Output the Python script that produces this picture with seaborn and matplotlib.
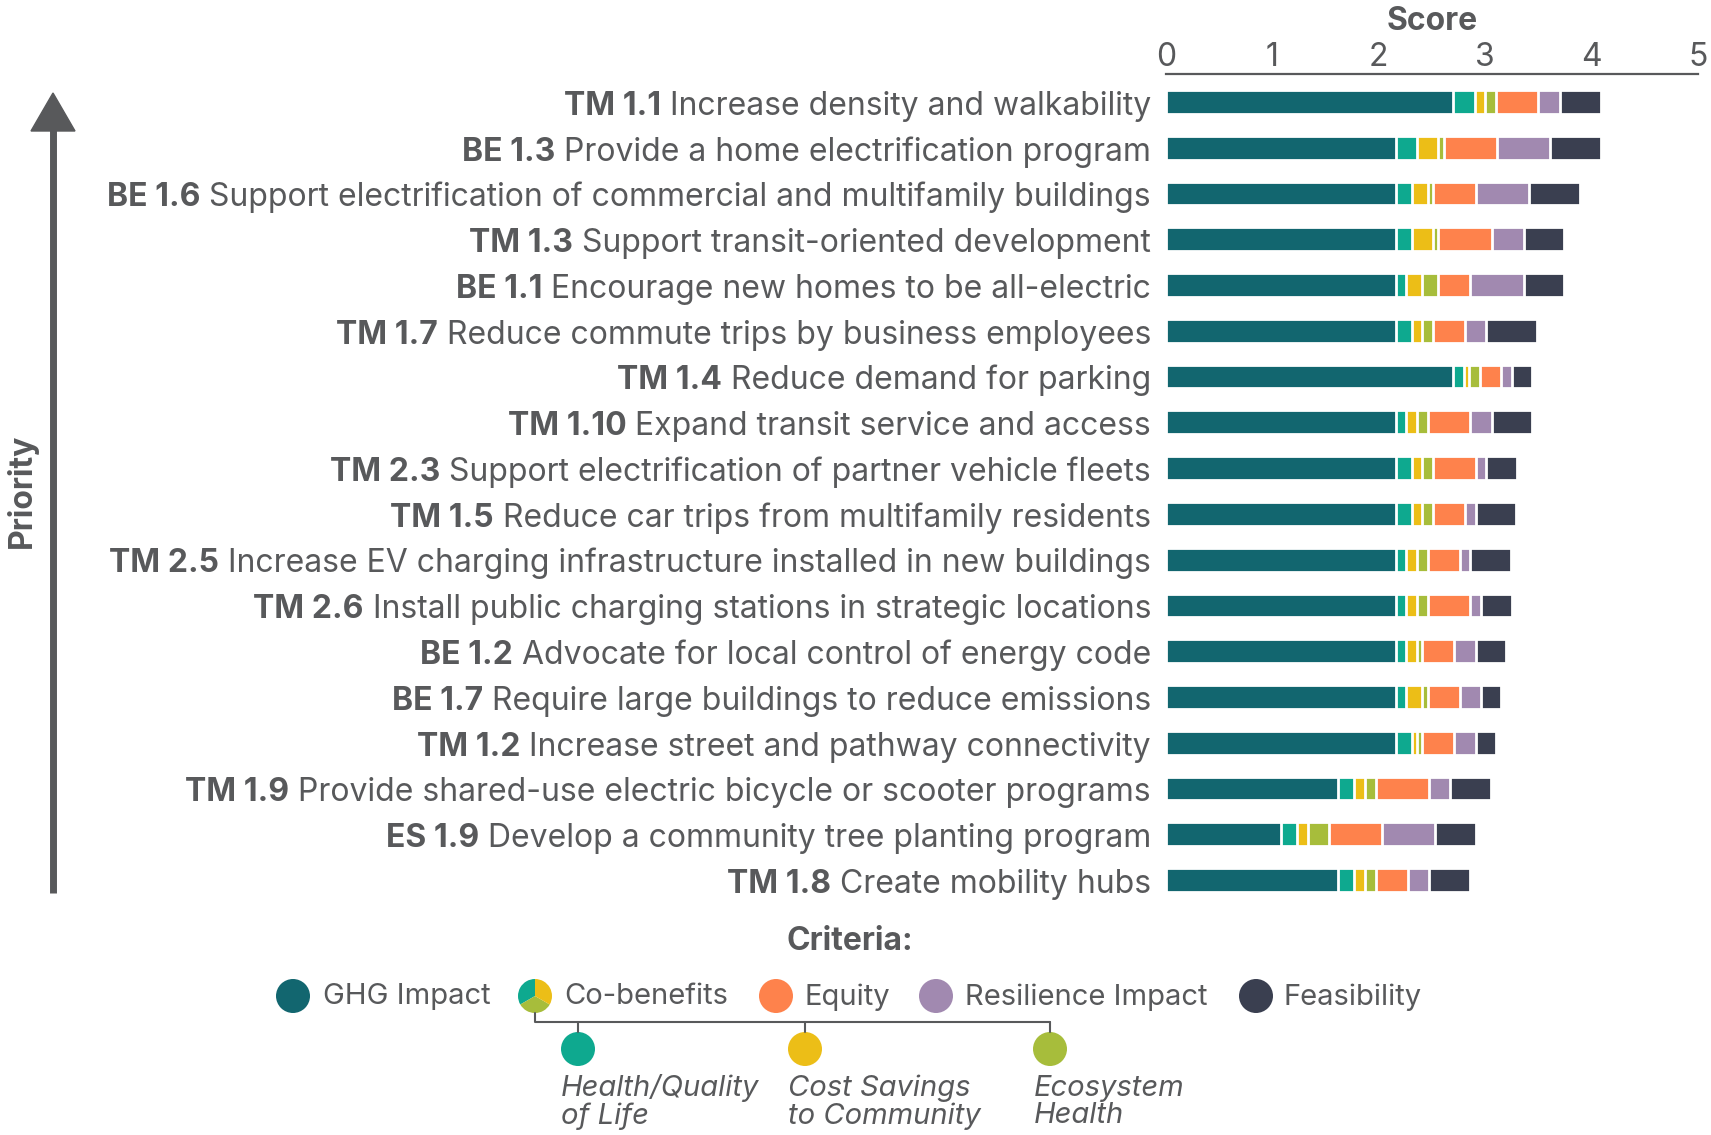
import numpy as np
import pandas as pd
import matplotlib.pyplot as plt
import seaborn as sns
from matplotlib.patches import Circle, Wedge, Polygon

# Actions (top = highest priority)
codes = ["TM 1.1", "BE 1.3", "BE 1.6", "TM 1.3", "BE 1.1", "TM 1.7", "TM 1.4", "TM 1.10",
         "TM 2.3", "TM 1.5", "TM 2.5", "TM 2.6", "BE 1.2", "BE 1.7", "TM 1.2", "TM 1.9",
         "ES 1.9", "TM 1.8"]
actions = [
    "Increase density and walkability",
    "Provide a home electrification program",
    "Support electrification of commercial and multifamily buildings",
    "Support transit-oriented development",
    "Encourage new homes to be all-electric",
    "Reduce commute trips by business employees",
    "Reduce demand for parking",
    "Expand transit service and access",
    "Support electrification of partner vehicle fleets",
    "Reduce car trips from multifamily residents",
    "Increase EV charging infrastructure installed in new buildings",
    "Install public charging stations in strategic locations",
    "Advocate for local control of energy code",
    "Require large buildings to reduce emissions",
    "Increase street and pathway connectivity",
    "Provide shared-use electric bicycle or scooter programs",
    "Develop a community tree planting program",
    "Create mobility hubs",
]

# Score components
ghg = [2.70, 2.16, 2.16, 2.16, 2.16, 2.16, 2.70, 2.16, 2.16, 2.16, 2.16, 2.16, 2.16, 2.16, 2.16, 1.62, 1.08, 1.62]
health = [0.20, 0.20, 0.15, 0.15, 0.10, 0.15, 0.10, 0.10, 0.15, 0.15, 0.10, 0.10, 0.10, 0.10, 0.15, 0.15, 0.15, 0.15]
cost = [0.10, 0.20, 0.15, 0.20, 0.15, 0.10, 0.05, 0.10, 0.10, 0.10, 0.10, 0.10, 0.10, 0.15, 0.05, 0.10, 0.10, 0.10]
eco = [0.10, 0.05, 0.05, 0.05, 0.15, 0.10, 0.10, 0.10, 0.10, 0.10, 0.10, 0.10, 0.05, 0.05, 0.05, 0.10, 0.20, 0.10]
equity = [0.40, 0.50, 0.40, 0.50, 0.30, 0.30, 0.20, 0.40, 0.40, 0.30, 0.30, 0.40, 0.30, 0.30, 0.30, 0.50, 0.50, 0.30]
resilience = [0.20, 0.50, 0.50, 0.30, 0.50, 0.20, 0.10, 0.20, 0.10, 0.10, 0.10, 0.10, 0.20, 0.20, 0.20, 0.20, 0.50, 0.20]
feasibility = [0.384, 0.48, 0.48, 0.384, 0.384, 0.48, 0.192, 0.384, 0.288, 0.384, 0.384, 0.288, 0.288, 0.192, 0.192, 0.384, 0.384, 0.384]

criteria = ["GHG Impact", "Health/Quality of Life", "Cost Savings to Community", "Ecosystem Health",
            "Equity", "Resilience Impact", "Feasibility"]
colors = ["#12666f", "#0ea98f", "#ecbe17", "#a7bd3b", "#fe824c", "#a189b0", "#3a3f50"]
gray = "#58595b"

sns.set_theme(style="white")
plt.rcParams["font.family"] = ["Inter", "DejaVu Sans"]

W, H = 1711, 1135
fig = plt.figure(figsize=(W / 100, H / 100), dpi=100)
ax = fig.add_axes([1166 / W, 1 - 903 / H, 532 / W, 829 / H])

labels = [f"{c} {a}" for c, a in zip(codes, actions)]
parts = np.array([ghg, health, cost, eco, equity, resilience, feasibility])
cum = np.cumsum(parts, axis=0)

# stacked bars: draw cumulative totals from longest to shortest
for k in range(len(parts) - 1, -1, -1):
    df = pd.DataFrame({"label": labels, "value": cum[k]})
    sns.barplot(data=df, x="value", y="label", orient="h", color=colors[k], saturation=1,
                width=0.52, edgecolor="white", linewidth=2, ax=ax)

ax.set_xlim(0, 5)
ax.set_ylim(17.5, -0.61)
ax.set_xlabel("")
ax.set_ylabel("")
ax.set_yticks([])
ax.xaxis.tick_top()
ax.set_xticks(range(6))
ax.tick_params(axis="x", length=0, pad=1, labelsize=23, labelcolor=gray)
for s in ["bottom", "left", "right"]:
    ax.spines[s].set_visible(False)
ax.spines["top"].set_color(gray)
ax.spines["top"].set_linewidth(1.6)

fig.text(1432 / W, 1 - 21 / H, "Score", ha="center", va="center", fontsize=23,
         fontweight="bold", color=gray)

# row labels: bold code + regular description, right aligned
fig.canvas.draw()
r = fig.canvas.get_renderer()
tr = ax.get_yaxis_transform()
for i, (c, a) in enumerate(zip(codes, actions)):
    t = ax.text(-0.028, i + 0.28, " " + a, transform=tr, ha="right", va="baseline",
                fontsize=23, color=gray)
    bb = t.get_window_extent(r)
    x0 = ax.transAxes.inverted().transform((bb.x0, 0))[0]
    ax.text(x0, i + 0.28, c, transform=tr, ha="right", va="baseline",
            fontsize=23, fontweight="bold", color=gray)

# overlay in pixel coordinates for arrow and legend
lax = fig.add_axes([0, 0, 1, 1])
lax.set_xlim(0, W)
lax.set_ylim(H, 0)
lax.axis("off")
lax.patch.set_alpha(0)

lax.plot([53, 53], [893, 128], color=gray, lw=5, solid_capstyle="butt")
lax.add_patch(Polygon([[31, 131], [75, 131], [53, 93]], closed=True, color=gray))
lax.text(22, 491, "Priority", rotation=90, ha="center", va="center", fontsize=23,
         fontweight="bold", color=gray)

lax.text(850, 942, "Criteria:", ha="center", va="center", fontsize=23, fontweight="bold", color=gray)

rad = 17
legend_items = [(293, 323, "GHG Impact", colors[0]), (535, 564, "Co-benefits", None),
                (776, 805, "Equity", colors[4]), (936, 965, "Resilience Impact", colors[5]),
                (1256, 1284, "Feasibility", colors[6])]
ly = 996
for cx, tx, name, col in legend_items:
    if col is None:
        # pie marker for co-benefits (angles flipped because y is inverted)
        lax.add_patch(Wedge((cx, ly), rad, 150, 270, color=colors[1], lw=0))
        lax.add_patch(Wedge((cx, ly), rad, 30, 150, color=colors[3], lw=0))
        lax.add_patch(Wedge((cx, ly), rad, -90, 30, color=colors[2], lw=0))
    else:
        lax.add_patch(Circle((cx, ly), rad, color=col, lw=0))
    lax.text(tx, ly + 1, name, ha="left", va="center", fontsize=21, color=gray)

# bracket to co-benefit sub criteria
bx = [578, 805, 1050]
lax.plot([535, 535, 1050], [ly + rad, 1022, 1022], color=gray, lw=1.5)
for x in bx:
    lax.plot([x, x], [1022, 1049 - rad], color=gray, lw=1.5)
for x, col in zip(bx, colors[1:4]):
    lax.add_patch(Circle((x, 1049), rad, color=col, lw=0))
sub_text = [(561, "Health/Quality\nof Life"), (788, "Cost Savings\nto Community"), (1034, "Ecosystem\nHealth")]
for x, s in sub_text:
    lax.text(x, 1102, s, ha="left", va="center", fontsize=21, fontstyle="italic",
             color=gray, linespacing=1.0)

fig.savefig("out.png", dpi=100)
